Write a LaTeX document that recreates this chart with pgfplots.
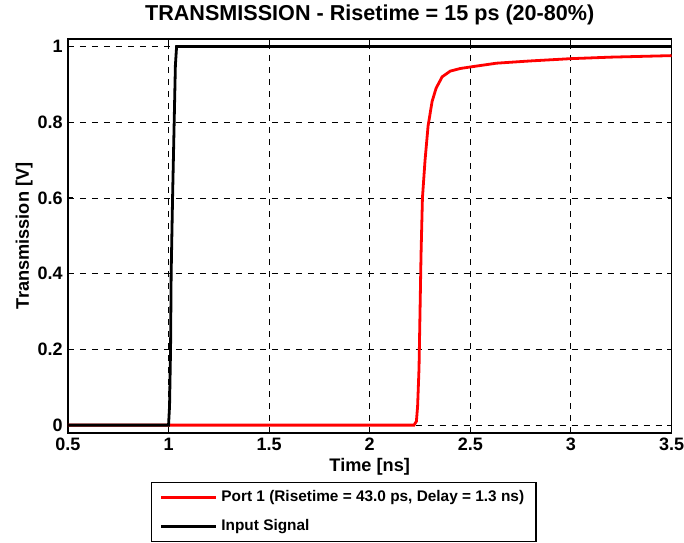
\documentclass[border=0pt]{standalone}
\usepackage{pgfplots}
\pgfplotsset{compat=1.18}
\usepackage{fontspec}
\setmainfont{Liberation Sans}

\begin{document}
\begin{tikzpicture}
\begin{axis}[
    scale only axis,
    width=302pt, height=197pt,
    xmin=0.5, xmax=3.5, ymin=-0.02, ymax=1.02,
    xtick={0.5,1,...,3.5}, ytick={0,0.2,...,1},
    /pgf/number format/assume math mode=true,
    ticklabel style={font=\fontsize{9}{10}\selectfont\bfseries},
    xticklabel style={inner xsep=0pt, inner ysep=2.5pt},
    yticklabel style={inner xsep=2.5pt},
    tick align=inside, major tick length=2.5pt,
    tick style={black, line width=0.5pt},
    axis line style={line width=0.9pt},
    grid=major,
    major grid style={black, line width=0.45pt, dash pattern=on 3pt off 3pt},
    title={TRANSMISSION - Risetime = 15 ps (20-80\%)},
    title style={font=\fontsize{10.8}{12}\selectfont\bfseries, inner sep=0pt,
        at={([yshift=3pt]axis description cs:0.5,1)}, anchor=base, yshift=0pt},
    xlabel={Time [ns]}, ylabel={Transmission [V]},
    label style={font=\fontsize{9.1}{10}\selectfont\bfseries, inner sep=1pt},
    xlabel style={at={([yshift=-19.5pt]axis description cs:0.5,0)}, anchor=base},
    ylabel style={at={([xshift=-19.5pt]axis description cs:0,0.5)}, anchor=base},
    legend style={at={(0.1374,-0.1244)}, anchor=north west, draw=black,
        line width=0.75pt, font=\fontsize{7.7}{9}\selectfont\bfseries,
        inner xsep=4pt, inner ysep=2pt, row sep=3.5pt},
    legend cell align=left,
    legend image code/.code={\draw[#1] (0pt,0pt) -- (27.5pt,0pt);},
]
\addplot[red, line width=1.4pt] coordinates {
(0.5,0) (2.22,0) (2.232,0.01) (2.238,0.05) (2.245,0.15) (2.25,0.3)
(2.255,0.45) (2.262,0.6) (2.275,0.7) (2.29,0.79) (2.31,0.855) (2.33,0.89)
(2.36,0.92) (2.40,0.935) (2.45,0.942) (2.5,0.946) (2.63,0.956) (2.8,0.962)
(3.0,0.968) (3.2,0.972) (3.5,0.976)};
\addlegendentry{Port 1 (Risetime = 43.0 ps, Delay = 1.3 ns)}
\addplot[black, line width=1.4pt] coordinates {
(0.5,0) (1.0,0) (1.005,0.05) (1.01,0.2) (1.013,0.4) (1.02,0.6)
(1.028,0.8) (1.034,0.95) (1.04,1.0) (3.5,1.0)};
\addlegendentry{Input Signal}
\end{axis}
\path ([xshift=-34pt]current axis.south west) ([yshift=19.5pt]current axis.north west);
\end{tikzpicture}
\end{document}
